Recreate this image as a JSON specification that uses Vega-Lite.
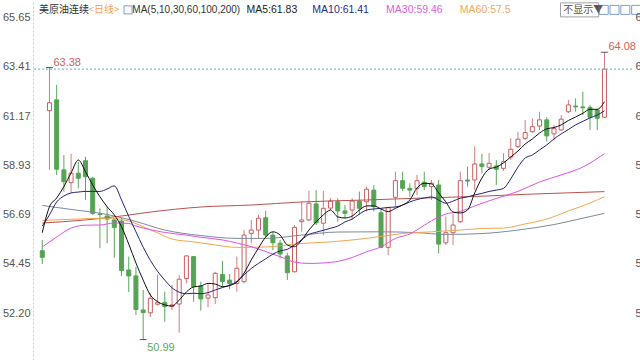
{
"$schema": "https://vega.github.io/schema/vega-lite/v6.json",
"width": 599, "height": 360,
"autosize": {"type": "none"},
"padding": {"left": 33, "top": 0, "right": 8, "bottom": 0},
"background": "#ffffff",
"config": {"view": {"stroke": null}, "text": {"font": "Liberation Sans"}},
"datasets": {
"k": [
{"i":0,"o":55.04,"h":55.53,"l":54.43,"c":54.74},
{"i":1,"o":61.42,"h":63.38,"l":58.72,"c":61.78},
{"i":2,"o":61.91,"h":62.59,"l":58.49,"c":58.75},
{"i":3,"o":58.72,"h":59.40,"l":57.73,"c":58.18},
{"i":4,"o":58.14,"h":59.45,"l":57.67,"c":58.57},
{"i":5,"o":58.57,"h":59.09,"l":57.88,"c":58.34},
{"i":6,"o":59.14,"h":59.32,"l":57.35,"c":58.41},
{"i":7,"o":58.34,"h":58.41,"l":56.67,"c":56.74},
{"i":8,"o":56.71,"h":56.97,"l":55.15,"c":56.69},
{"i":9,"o":56.62,"h":57.04,"l":55.38,"c":56.48},
{"i":10,"o":56.44,"h":56.53,"l":54.71,"c":56.10},
{"i":11,"o":56.39,"h":56.53,"l":53.89,"c":54.14},
{"i":12,"o":54.16,"h":54.77,"l":53.16,"c":53.89},
{"i":13,"o":53.89,"h":54.30,"l":52.11,"c":52.36},
{"i":14,"o":52.34,"h":53.25,"l":50.99,"c":52.22},
{"i":15,"o":52.21,"h":53.10,"l":52.03,"c":52.87},
{"i":16,"o":52.60,"h":53.95,"l":52.54,"c":52.67},
{"i":17,"o":52.69,"h":53.17,"l":51.80,"c":52.49},
{"i":18,"o":52.50,"h":53.48,"l":52.34,"c":52.57},
{"i":19,"o":52.61,"h":53.93,"l":51.30,"c":53.74},
{"i":20,"o":53.77,"h":54.84,"l":53.55,"c":54.80},
{"i":21,"o":54.77,"h":54.80,"l":52.72,"c":53.40},
{"i":22,"o":53.43,"h":53.63,"l":52.31,"c":52.84},
{"i":23,"o":52.88,"h":53.52,"l":52.47,"c":53.02},
{"i":24,"o":52.90,"h":54.08,"l":52.61,"c":54.01},
{"i":25,"o":53.96,"h":54.57,"l":53.40,"c":53.63},
{"i":26,"o":53.70,"h":53.98,"l":53.28,"c":53.55},
{"i":27,"o":53.55,"h":54.77,"l":53.17,"c":54.24},
{"i":28,"o":53.63,"h":55.98,"l":53.55,"c":55.75},
{"i":29,"o":55.83,"h":56.44,"l":55.38,"c":55.98},
{"i":30,"o":55.98,"h":56.67,"l":55.60,"c":56.52},
{"i":31,"o":56.54,"h":56.86,"l":55.65,"c":55.75},
{"i":32,"o":55.75,"h":55.89,"l":55.07,"c":55.40},
{"i":33,"o":55.38,"h":55.53,"l":54.69,"c":54.89},
{"i":34,"o":54.80,"h":54.95,"l":53.70,"c":54.04},
{"i":35,"o":54.08,"h":56.21,"l":54.04,"c":56.10},
{"i":36,"o":56.36,"h":57.27,"l":55.90,"c":56.44},
{"i":37,"o":56.44,"h":57.77,"l":56.39,"c":57.20},
{"i":38,"o":57.17,"h":57.80,"l":56.21,"c":56.31},
{"i":39,"o":56.29,"h":57.77,"l":55.75,"c":56.97},
{"i":40,"o":56.98,"h":57.44,"l":56.89,"c":57.30},
{"i":41,"o":57.27,"h":57.43,"l":56.36,"c":56.85},
{"i":42,"o":56.85,"h":57.12,"l":56.52,"c":56.74},
{"i":43,"o":56.89,"h":57.43,"l":56.44,"c":57.30},
{"i":44,"o":57.30,"h":57.73,"l":56.67,"c":56.97},
{"i":45,"o":57.27,"h":57.96,"l":56.82,"c":57.84},
{"i":46,"o":57.80,"h":58.03,"l":56.82,"c":57.04},
{"i":47,"o":56.77,"h":56.97,"l":55.16,"c":55.19},
{"i":48,"o":55.19,"h":57.04,"l":54.84,"c":57.00},
{"i":49,"o":57.47,"h":58.64,"l":57.04,"c":58.23},
{"i":50,"o":58.23,"h":58.64,"l":57.76,"c":57.88},
{"i":51,"o":57.88,"h":58.11,"l":57.50,"c":57.80},
{"i":52,"o":57.88,"h":58.49,"l":57.58,"c":58.23},
{"i":53,"o":58.16,"h":58.64,"l":57.80,"c":57.96},
{"i":54,"o":57.96,"h":58.26,"l":57.35,"c":58.11},
{"i":55,"o":58.03,"h":58.26,"l":54.92,"c":55.34},
{"i":56,"o":55.40,"h":56.59,"l":55.30,"c":55.86},
{"i":57,"o":55.86,"h":56.71,"l":55.30,"c":56.21},
{"i":58,"o":56.36,"h":58.64,"l":56.29,"c":58.23},
{"i":59,"o":58.26,"h":58.87,"l":57.96,"c":58.21},
{"i":60,"o":58.26,"h":59.78,"l":57.80,"c":58.99},
{"i":61,"o":58.99,"h":59.45,"l":58.57,"c":58.87},
{"i":62,"o":58.84,"h":59.48,"l":58.72,"c":59.02},
{"i":63,"o":58.90,"h":59.17,"l":58.03,"c":58.75},
{"i":64,"o":58.79,"h":59.48,"l":58.68,"c":59.09},
{"i":65,"o":59.30,"h":60.16,"l":59.17,"c":59.66},
{"i":66,"o":59.78,"h":60.46,"l":59.71,"c":60.12},
{"i":67,"o":60.16,"h":61.00,"l":60.08,"c":60.42},
{"i":68,"o":60.46,"h":61.07,"l":60.40,"c":60.69},
{"i":69,"o":60.72,"h":61.37,"l":60.54,"c":61.00},
{"i":70,"o":61.00,"h":61.12,"l":60.01,"c":60.27},
{"i":71,"o":60.36,"h":60.77,"l":60.08,"c":60.60},
{"i":72,"o":60.54,"h":61.22,"l":60.49,"c":61.03},
{"i":73,"o":61.37,"h":61.91,"l":61.30,"c":61.68},
{"i":74,"o":61.63,"h":61.98,"l":61.37,"c":61.59},
{"i":75,"o":61.59,"h":62.28,"l":61.22,"c":61.55},
{"i":76,"o":61.57,"h":61.68,"l":60.54,"c":61.12},
{"i":77,"o":61.45,"h":61.50,"l":60.54,"c":61.07},
{"i":78,"o":61.12,"h":64.08,"l":61.08,"c":63.31}
],
"ma": [
{"m":"MA200","i":0,"v":57.10},{"m":"MA200","i":4,"v":56.92},{"m":"MA200","i":9,"v":56.69},{"m":"MA200","i":13,"v":56.37},{"m":"MA200","i":17,"v":55.98},{"m":"MA200","i":22,"v":55.73},{"m":"MA200","i":27,"v":55.60},{"m":"MA200","i":31,"v":55.60},{"m":"MA200","i":36,"v":55.75},{"m":"MA200","i":41,"v":55.89},{"m":"MA200","i":47,"v":55.90},{"m":"MA200","i":52,"v":55.86},{"m":"MA200","i":56,"v":55.78},{"m":"MA200","i":61,"v":55.82},{"m":"MA200","i":66,"v":55.98},{"m":"MA200","i":71,"v":56.23},{"m":"MA200","i":75,"v":56.52},{"m":"MA200","i":78,"v":56.74},
{"m":"MA100","i":0,"v":56.30},{"m":"MA100","i":6,"v":56.44},{"m":"MA100","i":11,"v":56.62},{"m":"MA100","i":15,"v":56.80},{"m":"MA100","i":22,"v":57.03},{"m":"MA100","i":29,"v":57.12},{"m":"MA100","i":36,"v":57.26},{"m":"MA100","i":45,"v":57.35},{"m":"MA100","i":52,"v":57.43},{"m":"MA100","i":60,"v":57.51},{"m":"MA100","i":68,"v":57.62},{"m":"MA100","i":78,"v":57.73},
{"m":"MA60","i":0,"v":56.42},{"m":"MA60","i":4,"v":56.47},{"m":"MA60","i":9,"v":56.52},{"m":"MA60","i":12,"v":56.39},{"m":"MA60","i":14,"v":56.13},{"m":"MA60","i":16,"v":55.85},{"m":"MA60","i":18,"v":55.57},{"m":"MA60","i":21,"v":55.44},{"m":"MA60","i":24,"v":55.30},{"m":"MA60","i":27,"v":55.19},{"m":"MA60","i":31,"v":55.21},{"m":"MA60","i":36,"v":55.37},{"m":"MA60","i":40,"v":55.44},{"m":"MA60","i":45,"v":55.60},{"m":"MA60","i":50,"v":55.82},{"m":"MA60","i":54,"v":55.90},{"m":"MA60","i":58,"v":55.98},{"m":"MA60","i":61,"v":56.05},{"m":"MA60","i":64,"v":56.07},{"m":"MA60","i":67,"v":56.26},{"m":"MA60","i":70,"v":56.48},{"m":"MA60","i":73,"v":56.85},{"m":"MA60","i":76,"v":57.21},{"m":"MA60","i":78,"v":57.50},
{"m":"MA30","i":0,"v":55.21},{"m":"MA30","i":2,"v":55.66},{"m":"MA30","i":4,"v":56.07},{"m":"MA30","i":6,"v":56.20},{"m":"MA30","i":8,"v":56.21},{"m":"MA30","i":10,"v":56.30},{"m":"MA30","i":12,"v":56.28},{"m":"MA30","i":13,"v":56.16},{"m":"MA30","i":15,"v":56.00},{"m":"MA30","i":17,"v":55.87},{"m":"MA30","i":20,"v":55.75},{"m":"MA30","i":22,"v":55.65},{"m":"MA30","i":25,"v":55.53},{"m":"MA30","i":27,"v":55.39},{"m":"MA30","i":29,"v":55.22},{"m":"MA30","i":31,"v":55.00},{"m":"MA30","i":33,"v":54.77},{"m":"MA30","i":35,"v":54.52},{"m":"MA30","i":37,"v":54.46},{"m":"MA30","i":39,"v":54.48},{"m":"MA30","i":41,"v":54.55},{"m":"MA30","i":43,"v":54.73},{"m":"MA30","i":45,"v":54.99},{"m":"MA30","i":47,"v":55.21},{"m":"MA30","i":49,"v":55.60},{"m":"MA30","i":51,"v":55.80},{"m":"MA30","i":52,"v":55.99},{"m":"MA30","i":54,"v":56.40},{"m":"MA30","i":56,"v":56.71},{"m":"MA30","i":58,"v":56.83},{"m":"MA30","i":60,"v":57.08},{"m":"MA30","i":63,"v":57.42},{"m":"MA30","i":66,"v":57.74},{"m":"MA30","i":69,"v":58.17},{"m":"MA30","i":72,"v":58.49},{"m":"MA30","i":75,"v":58.85},{"m":"MA30","i":78,"v":59.46},
{"m":"MA10","i":0,"v":56.16},{"m":"MA10","i":1,"v":56.67},{"m":"MA10","i":2,"v":57.26},{"m":"MA10","i":3,"v":57.53},{"m":"MA10","i":4,"v":57.67},{"m":"MA10","i":5,"v":57.71},{"m":"MA10","i":6,"v":57.74},{"m":"MA10","i":7,"v":57.74},{"m":"MA10","i":8,"v":57.74},{"m":"MA10","i":9,"v":57.85},{"m":"MA10","i":10,"v":57.99},{"m":"MA10","i":11,"v":57.35},{"m":"MA10","i":12,"v":56.60},{"m":"MA10","i":13,"v":55.90},{"m":"MA10","i":14,"v":55.20},{"m":"MA10","i":15,"v":54.60},{"m":"MA10","i":16,"v":54.10},{"m":"MA10","i":17,"v":53.70},{"m":"MA10","i":18,"v":53.35},{"m":"MA10","i":19,"v":53.15},{"m":"MA10","i":20,"v":53.08},{"m":"MA10","i":21,"v":53.10},{"m":"MA10","i":22,"v":53.08},{"m":"MA10","i":23,"v":53.13},{"m":"MA10","i":24,"v":53.25},{"m":"MA10","i":25,"v":53.36},{"m":"MA10","i":26,"v":53.47},{"m":"MA10","i":27,"v":53.64},{"m":"MA10","i":28,"v":53.94},{"m":"MA10","i":29,"v":54.23},{"m":"MA10","i":30,"v":54.46},{"m":"MA10","i":31,"v":54.67},{"m":"MA10","i":32,"v":54.88},{"m":"MA10","i":33,"v":55.03},{"m":"MA10","i":34,"v":55.10},{"m":"MA10","i":35,"v":55.30},{"m":"MA10","i":36,"v":55.54},{"m":"MA10","i":37,"v":55.78},{"m":"MA10","i":38,"v":55.88},{"m":"MA10","i":39,"v":55.97},{"m":"MA10","i":40,"v":56.06},{"m":"MA10","i":41,"v":56.16},{"m":"MA10","i":42,"v":56.35},{"m":"MA10","i":43,"v":56.48},{"m":"MA10","i":44,"v":56.71},{"m":"MA10","i":45,"v":56.89},{"m":"MA10","i":46,"v":56.94},{"m":"MA10","i":47,"v":56.97},{"m":"MA10","i":48,"v":57.01},{"m":"MA10","i":49,"v":57.03},{"m":"MA10","i":50,"v":57.12},{"m":"MA10","i":51,"v":57.26},{"m":"MA10","i":52,"v":57.37},{"m":"MA10","i":53,"v":57.44},{"m":"MA10","i":54,"v":57.49},{"m":"MA10","i":55,"v":57.35},{"m":"MA10","i":56,"v":57.20},{"m":"MA10","i":57,"v":57.30},{"m":"MA10","i":58,"v":57.43},{"m":"MA10","i":59,"v":57.49},{"m":"MA10","i":60,"v":57.58},{"m":"MA10","i":61,"v":57.65},{"m":"MA10","i":62,"v":57.74},{"m":"MA10","i":63,"v":57.80},{"m":"MA10","i":64,"v":57.88},{"m":"MA10","i":65,"v":58.31},{"m":"MA10","i":66,"v":58.85},{"m":"MA10","i":67,"v":59.26},{"m":"MA10","i":68,"v":59.40},{"m":"MA10","i":69,"v":59.63},{"m":"MA10","i":70,"v":59.86},{"m":"MA10","i":71,"v":60.13},{"m":"MA10","i":72,"v":60.36},{"m":"MA10","i":73,"v":60.56},{"m":"MA10","i":74,"v":60.77},{"m":"MA10","i":75,"v":60.93},{"m":"MA10","i":76,"v":61.09},{"m":"MA10","i":77,"v":61.22},{"m":"MA10","i":78,"v":61.41},
{"m":"MA5","i":0,"v":55.86},{"m":"MA5","i":1,"v":57.04},{"m":"MA5","i":2,"v":57.44},{"m":"MA5","i":3,"v":57.96},{"m":"MA5","i":4,"v":58.58},{"m":"MA5","i":5,"v":59.17},{"m":"MA5","i":6,"v":58.64},{"m":"MA5","i":7,"v":58.03},{"m":"MA5","i":8,"v":57.50},{"m":"MA5","i":9,"v":57.04},{"m":"MA5","i":10,"v":56.67},{"m":"MA5","i":11,"v":56.13},{"m":"MA5","i":12,"v":55.34},{"m":"MA5","i":13,"v":54.48},{"m":"MA5","i":14,"v":53.70},{"m":"MA5","i":15,"v":53.02},{"m":"MA5","i":16,"v":52.72},{"m":"MA5","i":17,"v":52.57},{"m":"MA5","i":18,"v":52.52},{"m":"MA5","i":19,"v":52.79},{"m":"MA5","i":20,"v":53.16},{"m":"MA5","i":21,"v":53.39},{"m":"MA5","i":22,"v":53.43},{"m":"MA5","i":23,"v":53.55},{"m":"MA5","i":24,"v":53.52},{"m":"MA5","i":25,"v":53.40},{"m":"MA5","i":26,"v":53.45},{"m":"MA5","i":27,"v":53.61},{"m":"MA5","i":28,"v":54.02},{"m":"MA5","i":29,"v":54.62},{"m":"MA5","i":30,"v":55.16},{"m":"MA5","i":31,"v":55.66},{"m":"MA5","i":32,"v":55.90},{"m":"MA5","i":33,"v":55.75},{"m":"MA5","i":34,"v":55.30},{"m":"MA5","i":35,"v":55.22},{"m":"MA5","i":36,"v":55.53},{"m":"MA5","i":37,"v":55.98},{"m":"MA5","i":38,"v":56.35},{"m":"MA5","i":39,"v":56.67},{"m":"MA5","i":40,"v":56.89},{"m":"MA5","i":41,"v":56.58},{"m":"MA5","i":42,"v":56.53},{"m":"MA5","i":43,"v":56.62},{"m":"MA5","i":44,"v":56.89},{"m":"MA5","i":45,"v":57.08},{"m":"MA5","i":46,"v":57.08},{"m":"MA5","i":47,"v":56.94},{"m":"MA5","i":48,"v":56.82},{"m":"MA5","i":49,"v":56.97},{"m":"MA5","i":50,"v":57.12},{"m":"MA5","i":51,"v":57.35},{"m":"MA5","i":52,"v":57.90},{"m":"MA5","i":53,"v":58.11},{"m":"MA5","i":54,"v":58.08},{"m":"MA5","i":55,"v":57.67},{"m":"MA5","i":56,"v":57.26},{"m":"MA5","i":57,"v":56.80},{"m":"MA5","i":58,"v":56.76},{"m":"MA5","i":59,"v":56.89},{"m":"MA5","i":60,"v":57.67},{"m":"MA5","i":61,"v":58.35},{"m":"MA5","i":62,"v":58.76},{"m":"MA5","i":63,"v":58.85},{"m":"MA5","i":64,"v":59.04},{"m":"MA5","i":65,"v":59.31},{"m":"MA5","i":66,"v":59.58},{"m":"MA5","i":67,"v":59.90},{"m":"MA5","i":68,"v":60.13},{"m":"MA5","i":69,"v":60.40},{"m":"MA5","i":70,"v":60.59},{"m":"MA5","i":71,"v":60.65},{"m":"MA5","i":72,"v":60.77},{"m":"MA5","i":73,"v":60.97},{"m":"MA5","i":74,"v":61.13},{"m":"MA5","i":75,"v":61.30},{"m":"MA5","i":76,"v":61.48},{"m":"MA5","i":77,"v":61.48},{"m":"MA5","i":78,"v":61.83}
],
"ext": [{"i":1,"v":63.38},{"i":14,"v":50.99},{"i":78,"v":64.08}]
},
"resolve": {"axis": {"y": "independent"}},
"layer": [
{"data": {"name": "k"},
 "mark": {"type": "rule", "strokeWidth": 1},
 "encoding": {
  "x": {"field": "i", "type": "quantitative", "scale": {"domain": [-0.59, 81.13], "nice": false, "zero": false}, "axis": null},
  "y": {"field": "l", "type": "quantitative", "scale": {"domain": [50.06, 66.46], "nice": false, "zero": false},
        "axis": {"orient": "left", "values": [52.2, 54.45, 56.69, 58.93, 61.17, 63.41, 65.65], "format": ".2f", "ticks": false, "grid": false, "domain": true, "domainColor": "#c8c8c8", "domainDash": [2, 2], "labelColor": "#555555", "labelFontSize": 11, "labelFont": "Liberation Sans", "labelPadding": 3, "title": null}},
  "y2": {"field": "h"},
  "stroke": {"condition": {"test": "datum.c > datum.o", "value": "#d27c7c"}, "value": "#5aa65a"}
 }},
{"data": {"name": "k"},
 "mark": {"type": "bar", "size": 4, "strokeWidth": 1},
 "encoding": {
  "x": {"field": "i", "type": "quantitative", "axis": null},
  "y": {"field": "o", "type": "quantitative", "axis": null},
  "y2": {"field": "c"},
  "fill": {"condition": {"test": "datum.c > datum.o", "value": "#ffffff"}, "value": "#55a455"},
  "stroke": {"condition": {"test": "datum.c > datum.o", "value": "#c95f5f"}, "value": "#55a455"}
 }},
{"data": {"name": "ma"},
 "mark": {"type": "line", "strokeWidth": 1, "interpolate": "monotone"},
 "encoding": {
  "x": {"field": "i", "type": "quantitative", "axis": null},
  "y": {"field": "v", "type": "quantitative", "axis": null},
  "color": {"field": "m", "type": "nominal", "legend": null,
            "scale": {"domain": ["MA5", "MA10", "MA30", "MA60", "MA100", "MA200"], "range": ["#111111", "#22227a", "#e052e0", "#f2a650", "#b8524e", "#7d8b9a"]}}
 }},
{"data": {"values": [{}]},
 "mark": {"type": "rule", "strokeDash": [2, 2], "color": "#5eaed4", "strokeWidth": 1},
 "encoding": {
  "y": {"datum": 63.31, "type": "quantitative",
        "axis": {"orient": "right", "values": [52.2, 54.45, 56.69, 58.93, 61.17, 63.41, 65.65], "format": ".2f", "ticks": false, "grid": false, "domain": false, "labelColor": "#555555", "labelFontSize": 11, "labelFont": "Liberation Sans", "labelPadding": 3, "title": null}}
 }},
{"data": {"name": "ext"},
 "mark": {"type": "tick", "orient": "horizontal", "size": 7, "thickness": 1, "color": "#111111"},
 "encoding": {
  "x": {"field": "i", "type": "quantitative", "axis": null},
  "y": {"field": "v", "type": "quantitative", "axis": null}
 }},
{"data": {"values": [{}]},
 "mark": {"type": "text", "align": "left", "baseline": "middle", "dx": 4, "dy": -5, "fontSize": 11, "color": "#d0605e"},
 "encoding": {"x": {"datum": 1, "type": "quantitative", "axis": null}, "y": {"datum": 63.38, "type": "quantitative", "axis": null}, "text": {"value": "63.38"}}},
{"data": {"values": [{}]},
 "mark": {"type": "text", "align": "left", "baseline": "middle", "dx": 4, "dy": 8, "fontSize": 11, "color": "#5aaa5a"},
 "encoding": {"x": {"datum": 14, "type": "quantitative", "axis": null}, "y": {"datum": 50.99, "type": "quantitative", "axis": null}, "text": {"value": "50.99"}}},
{"data": {"values": [{}]},
 "mark": {"type": "text", "align": "left", "baseline": "middle", "dx": 4, "dy": -5, "fontSize": 11, "color": "#d0605e"},
 "encoding": {"x": {"datum": 78, "type": "quantitative", "axis": null}, "y": {"datum": 64.08, "type": "quantitative", "axis": null}, "text": {"value": "64.08"}}},
{"data": {"values": [{}]},
 "mark": {"type": "text", "align": "left", "baseline": "middle", "fontSize": 10, "font": "Noto Sans CJK SC", "color": "#333333"},
 "encoding": {"x": {"datum": -0.45, "type": "quantitative", "axis": null}, "y": {"datum": 66.01, "type": "quantitative", "axis": null}, "text": {"value": "美原油连续"}}},
{"data": {"values": [{}]},
 "mark": {"type": "text", "align": "left", "baseline": "middle", "fontSize": 10, "font": "Noto Sans CJK SC", "color": "#f2a257"},
 "encoding": {"x": {"datum": 6.4, "type": "quantitative", "axis": null}, "y": {"datum": 66.01, "type": "quantitative", "axis": null}, "text": {"value": "<日线>"}}},
{"data": {"values": [{}]},
 "mark": {"type": "point", "shape": "square", "size": 64, "filled": false, "strokeWidth": 1, "color": "#4a72c4"},
 "encoding": {"x": {"datum": 11.9, "type": "quantitative", "axis": null}, "y": {"datum": 66.01, "type": "quantitative", "axis": null}}},
{"data": {"values": [{}]},
 "mark": {"type": "text", "align": "left", "baseline": "middle", "fontSize": 10, "color": "#333333"},
 "encoding": {"x": {"datum": 12.5, "type": "quantitative", "axis": null}, "y": {"datum": 66.01, "type": "quantitative", "axis": null}, "text": {"value": "MA(5,10,30,60,100,200)"}}},
{"data": {"values": [{}]},
 "mark": {"type": "text", "align": "left", "baseline": "middle", "fontSize": 10.5, "color": "#222222"},
 "encoding": {"x": {"datum": 28.33, "type": "quantitative", "axis": null}, "y": {"datum": 66.01, "type": "quantitative", "axis": null}, "text": {"value": "MA5:61.83"}}},
{"data": {"values": [{}]},
 "mark": {"type": "text", "align": "left", "baseline": "middle", "fontSize": 10.5, "color": "#2b2b8f"},
 "encoding": {"x": {"datum": 37.47, "type": "quantitative", "axis": null}, "y": {"datum": 66.01, "type": "quantitative", "axis": null}, "text": {"value": "MA10:61.41"}}},
{"data": {"values": [{}]},
 "mark": {"type": "text", "align": "left", "baseline": "middle", "fontSize": 10.5, "color": "#e060e0"},
 "encoding": {"x": {"datum": 47.7, "type": "quantitative", "axis": null}, "y": {"datum": 66.01, "type": "quantitative", "axis": null}, "text": {"value": "MA30:59.46"}}},
{"data": {"values": [{}]},
 "mark": {"type": "text", "align": "left", "baseline": "middle", "fontSize": 10.5, "color": "#f0a860"},
 "encoding": {"x": {"datum": 57.94, "type": "quantitative", "axis": null}, "y": {"datum": 66.01, "type": "quantitative", "axis": null}, "text": {"value": "MA60:57.5"}}},
{"data": {"values": [{}]},
 "mark": {"type": "rect", "fill": "#ffffff", "stroke": "#a0a0a0", "strokeWidth": 1},
 "encoding": {"x": {"datum": 71.9, "type": "quantitative", "axis": null}, "x2": {"datum": 77.2}, "y": {"datum": 66.33, "type": "quantitative", "axis": null}, "y2": {"datum": 65.69}}},
{"data": {"values": [{}]},
 "mark": {"type": "text", "align": "left", "baseline": "middle", "fontSize": 10, "font": "Noto Sans CJK SC", "color": "#555555"},
 "encoding": {"x": {"datum": 72.3, "type": "quantitative", "axis": null}, "y": {"datum": 66.01, "type": "quantitative", "axis": null}, "text": {"value": "不显示▼"}}},
{"data": {"values": [{}]},
 "mark": {"type": "point", "shape": "square", "size": 81, "filled": false, "strokeWidth": 1, "color": "#4a72c4"},
 "encoding": {"x": {"datum": 77.9, "type": "quantitative", "axis": null}, "y": {"datum": 66.01, "type": "quantitative", "axis": null}}},
{"data": {"values": [{}]},
 "mark": {"type": "point", "shape": "square", "size": 81, "filled": false, "strokeWidth": 1, "color": "#4a72c4"},
 "encoding": {"x": {"datum": 79.4, "type": "quantitative", "axis": null}, "y": {"datum": 66.01, "type": "quantitative", "axis": null}}},
{"data": {"values": [{}]},
 "mark": {"type": "point", "shape": "square", "size": 81, "filled": false, "strokeWidth": 1, "color": "#4a72c4"},
 "encoding": {"x": {"datum": 80.9, "type": "quantitative", "axis": null}, "y": {"datum": 66.01, "type": "quantitative", "axis": null}}},
{"data": {"values": [{}]},
 "mark": {"type": "point", "shape": "square", "size": 81, "filled": false, "strokeWidth": 1, "color": "#4a72c4"},
 "encoding": {"x": {"datum": 82.4, "type": "quantitative", "axis": null}, "y": {"datum": 66.01, "type": "quantitative", "axis": null}}}
]
}
